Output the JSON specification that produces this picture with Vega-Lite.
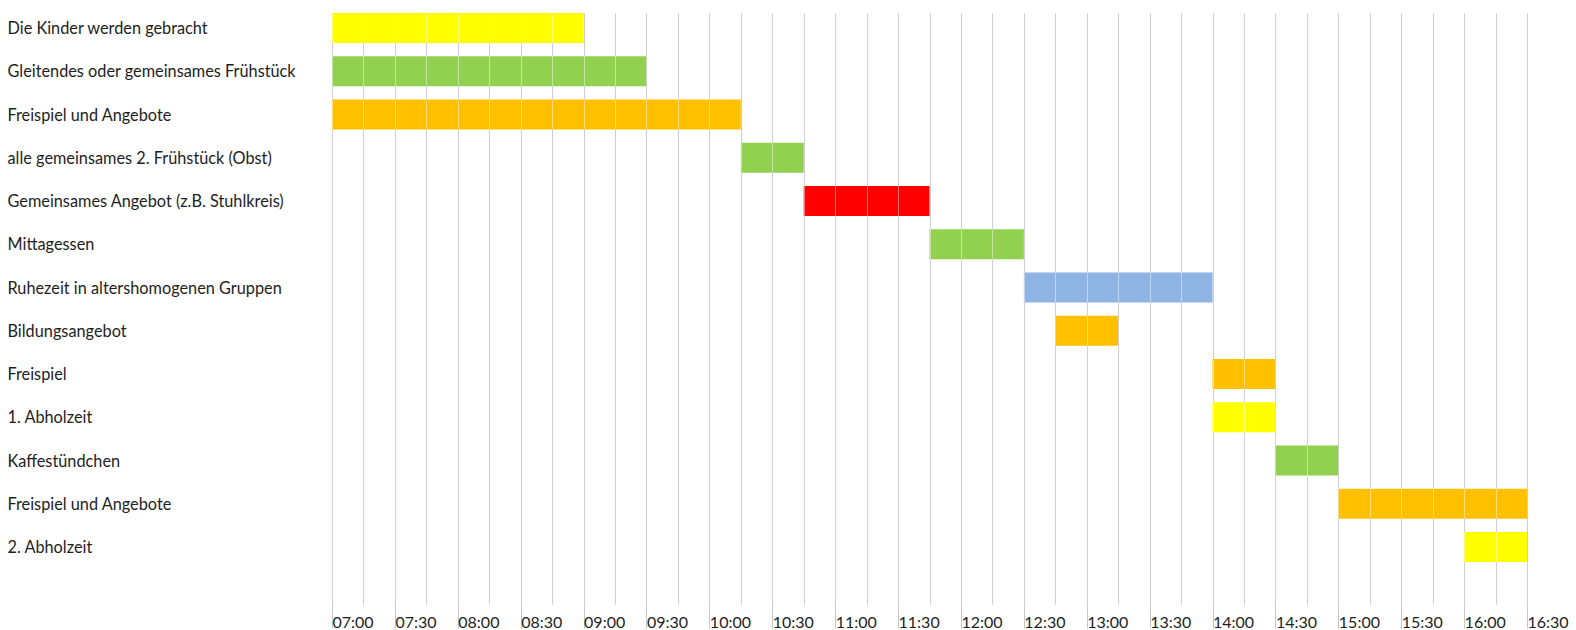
{
  "$schema": "https://vega.github.io/schema/vega-lite/v6.json",
  "width": 1195,
  "height": 591,
  "autosize": {"type": "none"},
  "padding": {"left": 332, "top": 13, "right": 49, "bottom": 26},
  "background": "white",
  "config": {"view": {"stroke": null}, "font": "Lato"},
  "data": {
    "values": [
      {"Aktivitaet": "Die Kinder werden gebracht", "Beginn": 7.0, "Ende": 9.0, "Kategorie": "Bringen/Abholen"},
      {"Aktivitaet": "Gleitendes oder gemeinsames Frühstück", "Beginn": 7.0, "Ende": 9.5, "Kategorie": "Essen"},
      {"Aktivitaet": "Freispiel und Angebote", "Beginn": 7.0, "Ende": 10.25, "Kategorie": "Spiel/Angebot"},
      {"Aktivitaet": "alle gemeinsames 2. Frühstück (Obst)", "Beginn": 10.25, "Ende": 10.75, "Kategorie": "Essen"},
      {"Aktivitaet": "Gemeinsames Angebot (z.B. Stuhlkreis)", "Beginn": 10.75, "Ende": 11.75, "Kategorie": "Gemeinsames Angebot"},
      {"Aktivitaet": "Mittagessen", "Beginn": 11.75, "Ende": 12.5, "Kategorie": "Essen"},
      {"Aktivitaet": "Ruhezeit in altershomogenen Gruppen", "Beginn": 12.5, "Ende": 14.0, "Kategorie": "Ruhe"},
      {"Aktivitaet": "Bildungsangebot", "Beginn": 12.75, "Ende": 13.25, "Kategorie": "Spiel/Angebot"},
      {"Aktivitaet": "Freispiel", "Beginn": 14.0, "Ende": 14.5, "Kategorie": "Spiel/Angebot"},
      {"Aktivitaet": "1. Abholzeit", "Beginn": 14.0, "Ende": 14.5, "Kategorie": "Bringen/Abholen"},
      {"Aktivitaet": "Kaffestündchen", "Beginn": 14.5, "Ende": 15.0, "Kategorie": "Essen"},
      {"Aktivitaet": "Freispiel und Angebote ", "Beginn": 15.0, "Ende": 16.5, "Kategorie": "Spiel/Angebot"},
      {"Aktivitaet": "2. Abholzeit", "Beginn": 16.0, "Ende": 16.5, "Kategorie": "Bringen/Abholen"}
    ]
  },
  "layer": [
    {
      "mark": {"type": "bar"},
      "encoding": {
        "y": {
          "field": "Aktivitaet", "type": "nominal", "sort": null, "title": null,
          "scale": {"paddingInner": 0.306, "paddingOuter": 0.485, "align": 0},
          "axis": {"domain": false, "ticks": false, "grid": false, "labelAlign": "left", "labelPadding": 325, "labelOffset": 1, "labelFont": "Lato", "labelFontSize": 16.3, "labelColor": "#1E1E1E", "labelLimit": 0}
        },
        "x": {
          "field": "Beginn", "type": "quantitative", "title": null,
          "scale": {"domain": [7, 16.5], "nice": false, "zero": false},
          "axis": {
            "orient": "bottom",
            "values": [7, 7.25, 7.5, 7.75, 8, 8.25, 8.5, 8.75, 9, 9.25, 9.5, 9.75, 10, 10.25, 10.5, 10.75, 11, 11.25, 11.5, 11.75, 12, 12.25, 12.5, 12.75, 13, 13.25, 13.5, 13.75, 14, 14.25, 14.5, 14.75, 15, 15.25, 15.5, 15.75, 16, 16.25, 16.5],
            "labelExpr": "(datum.value * 2) % 1 === 0 ? (floor(datum.value) < 10 ? '0' : '') + floor(datum.value) + ':' + (datum.value % 1 === 0 ? '00' : '30') : ''",
            "grid": true, "gridColor": "#A8A8A8", "gridWidth": 1,
            "domain": false,
            "ticks": true, "tickSize": 24, "tickColor": "#C6C6C6", "tickWidth": 1,
            "tickOpacity": {"condition": {"test": "(datum.value * 2) % 1 === 0", "value": 1}, "value": 0},
            "labelAlign": "left", "labelBaseline": "alphabetic", "labelPadding": -1, "labelDx": 3,
            "labelFont": "Lato", "labelFontSize": 16, "labelColor": "#1E1E1E",
            "labelOverlap": false, "labelFlush": false, "labelBound": false,
            "zindex": 0
          }
        },
        "x2": {"field": "Ende"},
        "color": {
          "field": "Kategorie", "type": "nominal", "legend": null,
          "scale": {
            "domain": ["Bringen/Abholen", "Essen", "Spiel/Angebot", "Gemeinsames Angebot", "Ruhe"],
            "range": ["#FFFF00", "#92D050", "#FFC000", "#FF0000", "#8DB4E2"]
          }
        }
      }
    },
    {
      "mark": {"type": "bar", "opacity": 0},
      "encoding": {
        "y": {"field": "Aktivitaet", "type": "nominal", "sort": null, "title": null},
        "x": {
          "field": "Beginn", "type": "quantitative", "title": null,
          "axis": {
            "orient": "top",
            "values": [7, 7.25, 7.5, 7.75, 8, 8.25, 8.5, 8.75, 9, 9.25, 9.5, 9.75, 10, 10.25, 10.5, 10.75, 11, 11.25, 11.5, 11.75, 12, 12.25, 12.5, 12.75, 13, 13.25, 13.5, 13.75, 14, 14.25, 14.5, 14.75, 15, 15.25, 15.5, 15.75, 16, 16.25, 16.5],
            "grid": true, "gridColor": "#FFFFFF", "gridOpacity": 0.45, "gridWidth": 1,
            "domain": false, "ticks": false, "labels": false,
            "zindex": 1
          }
        },
        "x2": {"field": "Ende"}
      }
    }
  ],
  "resolve": {"axis": {"x": "independent"}}
}
